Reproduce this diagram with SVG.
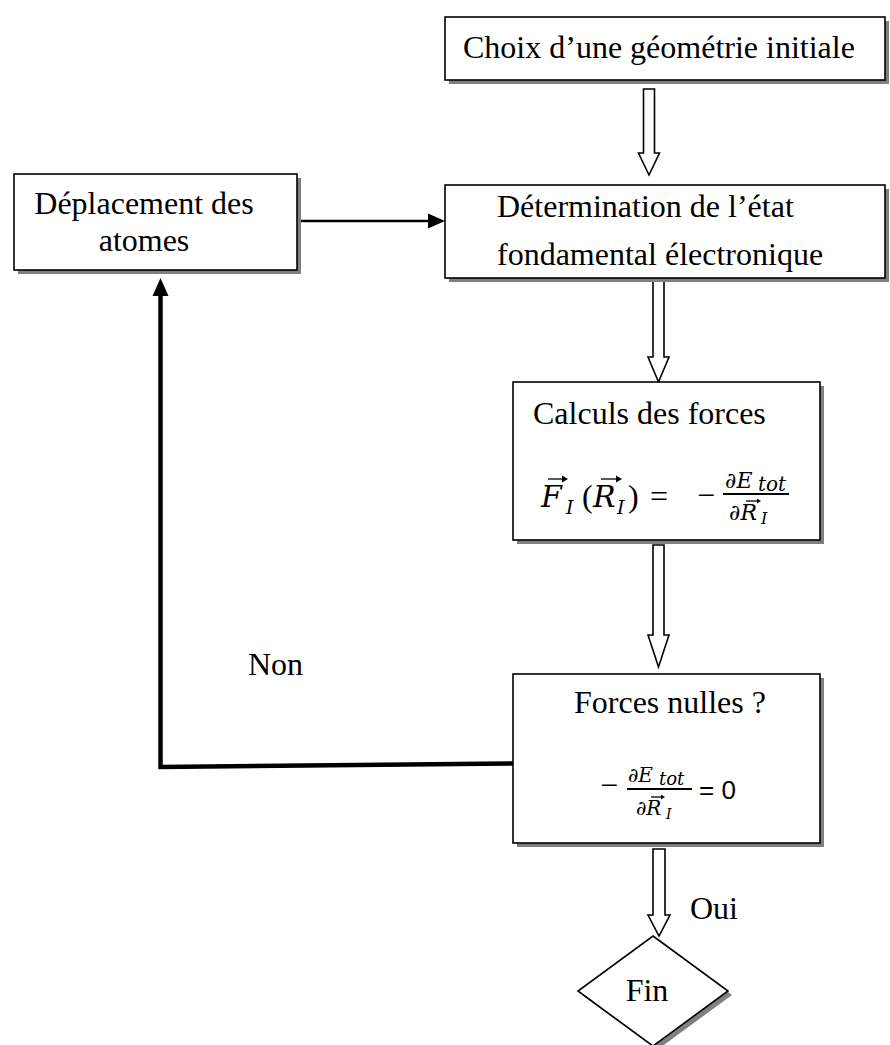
<svg xmlns="http://www.w3.org/2000/svg" width="890" height="1045" viewBox="0 0 890 1045">
<style>
.box{fill:#fff;stroke:#000;stroke-width:1.6}
.sh{fill:#808080}
.t{font-family:"Liberation Serif","Times New Roman",serif;font-size:32px;fill:#000}
.m{font-family:"DejaVu Serif","Liberation Serif",serif;font-style:italic;fill:#000}
.mu{font-family:"Liberation Serif","DejaVu Serif",serif;fill:#000}
.s{font-family:"Liberation Sans","Open Sans",sans-serif;fill:#000}
.ha{fill:#fff;stroke:#000;stroke-width:1.6;stroke-linejoin:miter}
.ln{stroke:#000;fill:none}
.va{stroke:#000;stroke-width:1.3;fill:none}
.vh{fill:#000}
</style>
<rect width="890" height="1045" fill="#fff"/>

<g id="connectors">
<polygon class="ha" points="643.5,89 654.5,89 654.5,153 659.5,153 649,175 638.5,153 643.5,153"/>
<polygon class="ha" points="653,281 664,281 664,357 669,357 658.5,382 648,357 653,357"/>
<polygon class="ha" points="653,545 664,545 664,635 669,635 658.5,667 648,635 653,635"/>
<polygon class="ha" points="653,849 665,849 665,915 670,915 659,936 648,915 653,915"/>
<line class="ln" x1="297" y1="221" x2="428" y2="221" stroke-width="2.3"/>
<polygon points="428,213.5 445,221 428,228.5" fill="#000"/>
<polyline class="ln" points="513,763.5 160.5,767 160.5,296" stroke-width="4.5" stroke-linejoin="miter"/>
<polygon points="152.5,296 168.5,296 160.5,278" fill="#000"/>
</g>

<g id="n-choix">
<rect class="sh" x="449" y="21" width="440" height="63"/>
<rect class="box" x="445" y="17" width="440" height="63"/>
<text class="t" x="463" y="58">Choix d’une géométrie initiale</text>
</g>

<g id="n-determination">
<rect class="sh" x="449" y="189" width="440" height="93"/>
<rect class="box" x="445" y="185" width="440" height="93"/>
<text class="t" x="497" y="217">Détermination de l’état</text>
<text class="t" x="497" y="265">fondamental électronique</text>
</g>

<g id="n-deplacement">
<rect class="sh" x="18" y="178" width="283" height="96"/>
<rect class="box" x="14" y="174" width="283" height="96"/>
<text class="t" x="144" y="214" text-anchor="middle">Déplacement des</text>
<text class="t" x="144" y="251" text-anchor="middle">atomes</text>
</g>

<g id="n-calculs">
<rect class="sh" x="517" y="386" width="307" height="158"/>
<rect class="box" x="513" y="382" width="307" height="158"/>
<text class="t" x="533" y="424">Calculs des forces</text>
<text class="m" x="541" y="507" font-size="30">F</text>
<text class="m" x="566" y="514" font-size="19">I</text>
<text class="mu" x="582" y="507" font-size="32">(</text>
<text class="m" x="593" y="507" font-size="30">R</text>
<text class="m" x="617" y="514" font-size="19">I</text>
<text class="mu" x="628" y="507" font-size="32">)</text>
<text class="mu" x="650" y="507" font-size="32">=</text>
<text class="mu" x="697" y="506" font-size="32">−</text>
<text class="m" x="725" y="488" font-size="22">∂E</text>
<text class="m" x="758" y="491" font-size="20">tot</text>
<line x1="723" y1="494" x2="789" y2="494" stroke="#000" stroke-width="2"/>
<text class="m" x="729" y="520" font-size="22">∂R</text>
<text class="m" x="761" y="524" font-size="16">I</text>
<path class="va" d="M548,479 H564"/><path class="vh" d="M568,479 l-6,-3.5 v7 z"/>
<path class="va" d="M601,479 H618"/><path class="vh" d="M622,479 l-6,-3.5 v7 z"/>
<path class="va" d="M746,501 H758"/><path class="vh" d="M761,501 l-4,-2.5 v5 z"/>
</g>

<g id="n-forces">
<rect class="sh" x="517" y="678" width="307" height="169"/>
<rect class="box" x="513" y="674" width="307" height="169"/>
<text class="t" x="574" y="713">Forces nulles ?</text>
<text class="mu" x="600" y="796" font-size="32">−</text>
<text class="m" x="628" y="782" font-size="20">∂E</text>
<text class="m" x="659" y="785" font-size="18">tot</text>
<line x1="627" y1="789" x2="692" y2="789" stroke="#000" stroke-width="2"/>
<text class="m" x="636" y="815" font-size="20">∂R</text>
<text class="m" x="666" y="819" font-size="14">I</text>
<path class="va" d="M651,797 H662"/><path class="vh" d="M665,797 l-4,-2.5 v5 z"/>
<text class="s" x="699" y="799" font-size="26">= 0</text>
</g>

<g id="n-fin">
<polygon class="sh" points="657,940 732,995 657,1050 582,995"/>
<polygon class="box" points="653,936 728,991 653,1046 578,991"/>
<text class="t" x="647" y="1001" text-anchor="middle">Fin</text>
</g>

<g id="labels">
<text class="t" x="248" y="675">Non</text>
<text class="t" x="690" y="919">Oui</text>
</g>
</svg>
